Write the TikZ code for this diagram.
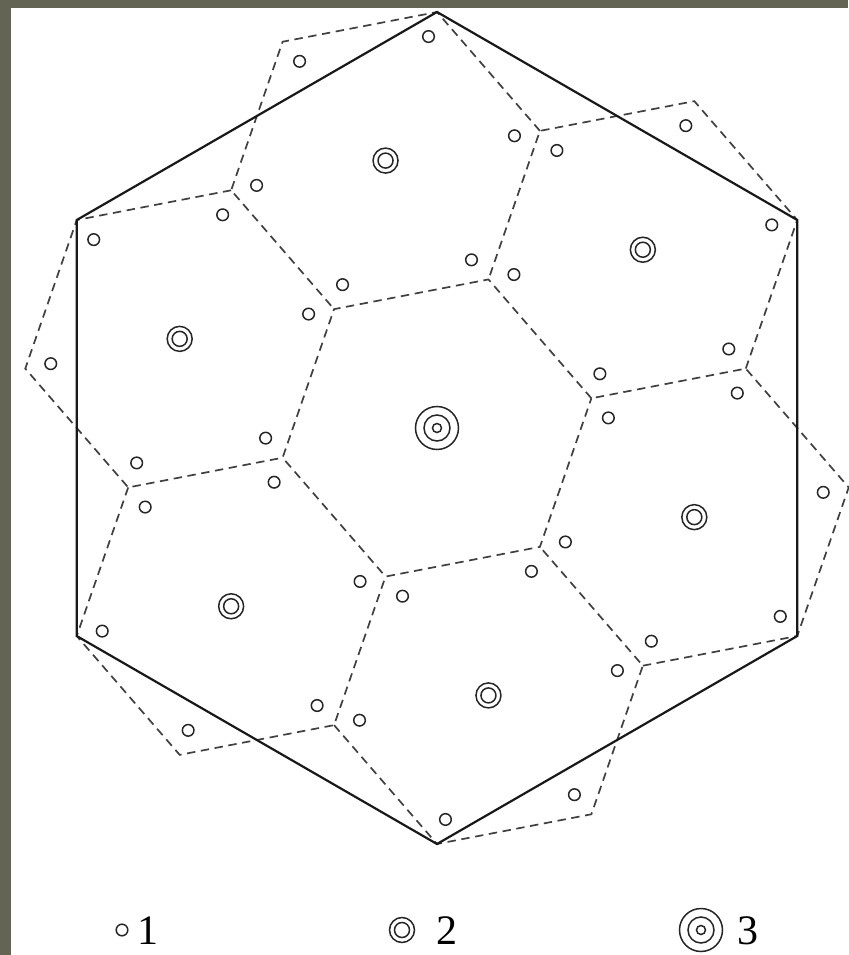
\documentclass[tikz,border=0pt]{standalone}
\usepackage{fontspec}
\setmainfont{Liberation Serif}
\usepackage{tikz}
\usetikzlibrary{calc}
\definecolor{scanGrey}{RGB}{100,100,84}
\newcommand{\cellR}{157.23}
\newcommand{\siteR}{131.3}
\newcommand{\tilt}{10.893}
\tikzset{
  cl/border/.style={draw=black!90, line width=1.1pt, line join=miter},
  cl/edge/.style={draw=black!75, line width=0.85pt, dash pattern=on 4.2pt off 2.8pt},
  cl/ring/.style={draw=black!85, line width=0.75pt},
  cl/key/.style={font=\fontsize{21}{24}\selectfont, inner sep=0pt, anchor=center}
}

\begin{document}
\begin{tikzpicture}[x=0.5pt,y=0.5pt]
\useasboundingbox (-437,-527) rectangle (411,428);
\fill[scanGrey] (-437,-527) rectangle (411,428);
\fill[white] (-426,-527) rectangle (411,420);

\coordinate (c0) at (0,0);
\foreach \i in {1,...,6}
  \coordinate (c\i) at ({\tilt+30+60*(\i-1)}:272.33);
\foreach \a [count=\n] in {90,30,-30,-90,-150,150}
  \coordinate (h\n) at (\a:416);

% cell edges, each one once
\draw[cl/edge] (\tilt:\cellR) \foreach \k in {1,...,5} {-- ({\tilt+60*\k}:\cellR)} -- cycle;
\foreach \i [evaluate=\i as \b using \tilt+60*(\i-1)] in {1,...,6}
  \draw[cl/edge] ($(c\i)+({\b-60}:\cellR)$) -- ($(c\i)+(\b:\cellR)$) -- ($(c\i)+({\b+60}:\cellR)$)
    -- ($(c\i)+({\b+120}:\cellR)$) -- ($(c\i)+({\b+180}:\cellR)$);

\draw[cl/border] (h1) -- (h2) -- (h3) -- (h4) -- (h5) -- (h6) -- cycle;

% sites
\foreach \i in {1,...,6}{
  \draw[cl/ring] (c\i) circle (12.5) (c\i) circle (7.5);
  \foreach \k in {0,...,5}
    \draw[cl/ring] ($(c\i)+({\tilt+60*\k}:\siteR)$) circle (5.8);
}
\draw[cl/ring] (c0) circle (21.5) (c0) circle (13) (c0) circle (4.5);

% key
\coordinate (k1) at (-315,-502);
\coordinate (k2) at (-35,-502);
\coordinate (k3) at (264,-502);
\draw[cl/ring] (k1) circle (5.8);
\draw[cl/ring] (k2) circle (12.5) (k2) circle (7.5);
\draw[cl/ring] (k3) circle (21.5) (k3) circle (13) (k3) circle (4.5);
\node[cl/key] (lab1) at (-289,-503) {1};
\node[cl/key] (lab2) at (10,-503) {2};
\node[cl/key] (lab3) at (311,-503) {3};
\end{tikzpicture}
\end{document}
